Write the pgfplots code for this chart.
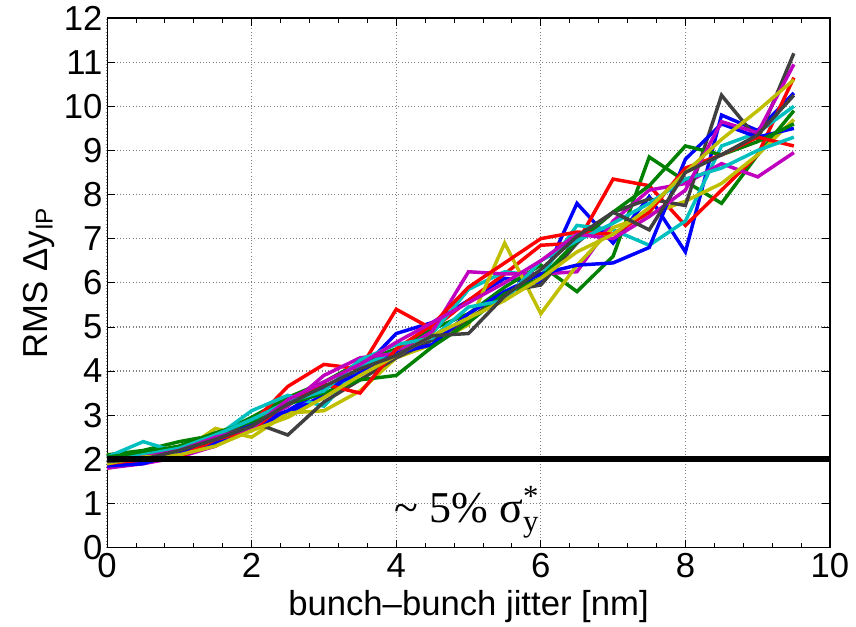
\documentclass[border=0pt]{standalone}
\usepackage{fontspec}
\setmainfont{Liberation Sans}
\newfontfamily\serif{Liberation Serif}
\usepackage{pgfplots}
\pgfplotsset{compat=1.18}
\definecolor{mb}{rgb}{0,0,1}
\definecolor{mg}{rgb}{0,0.5,0}
\definecolor{mr}{rgb}{1,0,0}
\definecolor{mc}{rgb}{0,0.75,0.75}
\definecolor{mm}{rgb}{0.75,0,0.75}
\definecolor{my}{rgb}{0.75,0.75,0}
\definecolor{mk}{rgb}{0.25,0.25,0.25}

\begin{document}
\begin{tikzpicture}[font=\fontsize{26}{30}\selectfont]
\begin{axis}[
    scale only axis,
    width=542pt, height=397pt,
    xmin=0, xmax=10, ymin=0, ymax=12,
    xtick={0,2,4,6,8,10}, ytick={0,1,...,12},
    minor x tick num=4,
    tick align=inside,
    major tick length=6pt, minor tick length=3.5pt,
    tick style={black, line width=0.6pt},
    axis line style={black, line width=0.8pt},
    grid=major, grid style={dotted, black!50, line width=0.9pt},
    /pgf/number format/assume math mode=true,
    xticklabel style={yshift=-1pt},
    xlabel={bunch–bunch jitter [nm]},
    xlabel style={yshift=-2pt},
    ylabel={RMS Δy\textsubscript{IP}},
    every axis plot/.append style={line width=2.6pt, line join=miter},
    clip=false,
]
% MATLAB colour order, two runs each
\addplot[mb] coordinates {(0,2.00) (0.5,1.95) (1,2.10) (1.5,2.40) (2,2.70) (2.5,3.05) (3,3.45) (3.5,4.00) (4,4.85) (4.5,5.10) (5,5.60) (5.5,6.10) (6,6.00) (6.5,7.80) (7,6.90) (7.5,7.95) (8,6.70) (8.5,9.80) (9,9.45) (9.5,10.30)};
\addplot[mg] coordinates {(0,2.10) (0.5,2.20) (1,2.40) (1.5,2.55) (2,2.95) (2.5,3.40) (3,3.75) (3.5,4.20) (4,4.50) (4.5,4.95) (5,5.30) (5.5,5.90) (6,6.40) (6.5,5.80) (7,6.60) (7.5,8.85) (8,8.30) (8.5,7.80) (9,8.90) (9.5,9.90)};
\addplot[mr] coordinates {(0,1.80) (0.5,1.95) (1,2.10) (1.5,2.30) (2,2.80) (2.5,3.65) (3,4.15) (3.5,4.05) (4,5.40) (4.5,4.95) (5,5.60) (5.5,6.20) (6,6.85) (6.5,6.90) (7,8.35) (7.5,8.20) (8,7.30) (8.5,8.10) (9,8.90) (9.5,10.65)};
\addplot[mc] coordinates {(0,2.05) (0.5,2.40) (1,2.15) (1.5,2.50) (2,3.10) (2.5,3.45) (3,3.20) (3.5,4.10) (4,4.45) (4.5,4.85) (5,5.85) (5.5,6.25) (6,6.15) (6.5,7.30) (7,7.20) (7.5,6.85) (8,7.40) (8.5,9.10) (9,9.40) (9.5,10.00)};
\addplot[mm] coordinates {(0,1.80) (0.5,1.90) (1,2.05) (1.5,2.30) (2,2.80) (2.5,3.20) (3,3.90) (3.5,4.30) (4,4.40) (4.5,4.90) (5,6.25) (5.5,6.20) (6,6.20) (6.5,6.25) (7,7.40) (7.5,8.10) (8,8.25) (8.5,8.70) (9,8.40) (9.5,8.95)};
\addplot[my] coordinates {(0,2.00) (0.5,2.10) (1,2.15) (1.5,2.70) (2,2.50) (2.5,3.05) (3,3.10) (3.5,3.55) (4,4.30) (4.5,4.60) (5,5.05) (5.5,6.90) (6,5.30) (6.5,6.40) (7,7.25) (7.5,7.55) (8,7.85) (8.5,8.25) (9,8.90) (9.5,9.70)};
\addplot[mk] coordinates {(0,2.05) (0.5,2.10) (1,2.25) (1.5,2.50) (2,2.85) (2.5,2.55) (3,3.30) (3.5,3.80) (4,4.30) (4.5,4.70) (5,5.15) (5.5,5.80) (6,5.95) (6.5,6.90) (7,7.60) (7.5,7.90) (8,7.75) (8.5,10.25) (9,9.25) (9.5,11.20)};
\addplot[mb] coordinates {(0,1.85) (0.5,1.90) (1,2.15) (1.5,2.35) (2,2.80) (2.5,3.10) (3,3.60) (3.5,3.95) (4,4.40) (4.5,4.60) (5,5.30) (5.5,5.80) (6,6.20) (6.5,6.40) (7,6.45) (7.5,6.80) (8,8.80) (8.5,9.60) (9,9.30) (9.5,9.50)};
\addplot[mg] coordinates {(0,2.05) (0.5,2.15) (1,2.30) (1.5,2.60) (2,2.85) (2.5,3.25) (3,3.50) (3.5,3.80) (4,3.90) (4.5,4.55) (5,5.10) (5.5,5.75) (6,6.10) (6.5,6.95) (7,7.60) (7.5,8.20) (8,9.10) (8.5,8.90) (9,9.20) (9.5,9.60)};
\addplot[mr] coordinates {(0,1.90) (0.5,2.00) (1,2.05) (1.5,2.45) (2,2.65) (2.5,3.30) (3,3.70) (3.5,3.50) (4,4.50) (4.5,5.05) (5,5.90) (5.5,6.45) (6,7.00) (6.5,7.15) (7,7.10) (7.5,7.60) (8,8.60) (8.5,8.90) (9,9.30) (9.5,9.10)};
\addplot[mc] coordinates {(0,1.95) (0.5,2.10) (1,2.25) (1.5,2.55) (2,2.90) (2.5,3.30) (3,3.55) (3.5,4.25) (4,4.60) (4.5,4.75) (5,5.45) (5.5,5.60) (6,6.50) (6.5,6.95) (7,7.35) (7.5,7.80) (8,8.35) (8.5,8.60) (9,9.00) (9.5,9.30)};
\addplot[mm] coordinates {(0,1.95) (0.5,2.05) (1,2.20) (1.5,2.50) (2,2.70) (2.5,3.35) (3,3.75) (3.5,4.15) (4,4.65) (4.5,5.10) (5,5.55) (5.5,6.00) (6,6.50) (6.5,7.10) (7,7.00) (7.5,7.50) (8,8.10) (8.5,9.65) (9,9.40) (9.5,10.95)};
\addplot[my] coordinates {(0,1.90) (0.5,2.05) (1,2.10) (1.5,2.30) (2,2.65) (2.5,2.95) (3,3.40) (3.5,3.90) (4,4.35) (4.5,4.80) (5,5.20) (5.5,5.60) (6,6.10) (6.5,6.70) (7,7.10) (7.5,7.70) (8,8.50) (8.5,9.25) (9,9.90) (9.5,10.60)};
\addplot[mk] coordinates {(0,1.95) (0.5,2.00) (1,2.20) (1.5,2.45) (2,2.75) (2.5,3.25) (3,3.65) (3.5,4.05) (4,4.35) (4.5,4.80) (5,4.85) (5.5,5.70) (6,6.30) (6.5,7.05) (7,7.60) (7.5,7.20) (8,8.50) (8.5,8.90) (9,9.35) (9.5,10.25)};
% 5% of sigma_y* reference level
\addplot[black, line width=4.5pt] coordinates {(0,2) (10,2)};
\node at (axis cs:4.98,0.8) {\serif\fontsize{33}{36}\selectfont\textasciitilde{} 5\% σ\rlap{\raisebox{3pt}{\textsuperscript{*}}}\raisebox{-3pt}{\textsubscript{y}}};
\end{axis}
\path (current axis.south west) ++(-80.25pt,-57pt) coordinate (bbA);
\path (current axis.north east) ++(19.5pt,13.5pt) coordinate (bbB);
\path (bbA) rectangle (bbB);
\end{tikzpicture}
\end{document}
